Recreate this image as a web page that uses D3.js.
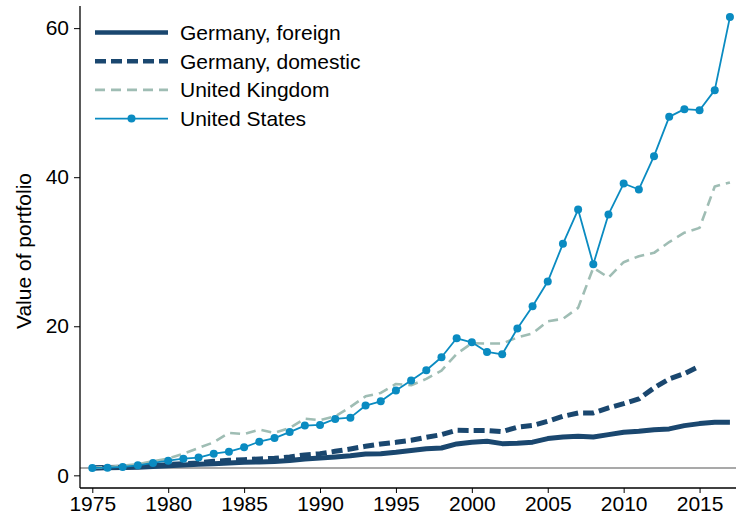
<!DOCTYPE html>
<html>
<head>
<meta charset="utf-8">
<script src="https://cdn.jsdelivr.net/npm/d3@7"></script>
<style>
  body { margin: 0; background: #fff; }
  svg { display: block; font-family: "Liberation Sans", Arial, sans-serif; }
  .axis path, .axis line { stroke: #000; }
  .axis text { font-size: 21px; fill: #000; }
  .legend text { font-size: 21px; fill: #000; }
</style>
</head>
<body>
<div id="chart"></div>
<script>

var years = d3.range(1975, 2018);

var germanyForeign = [1.0, 1.02, 1.05, 1.1, 1.2, 1.3, 1.4, 1.47, 1.55, 1.65, 1.75, 1.8, 1.85, 1.98, 2.2,
  2.33, 2.47, 2.64, 2.87, 2.91, 3.09, 3.32, 3.58, 3.67, 4.21, 4.45, 4.56, 4.25, 4.3, 4.45,
  4.93, 5.15, 5.24, 5.15, 5.46, 5.77, 5.9, 6.13, 6.23, 6.67, 6.94, 7.11, 7.11];

var germanyDomestic = [1.0, 1.05, 1.1, 1.2, 1.3, 1.44, 1.57, 1.66, 1.88, 2.01, 2.1, 2.2, 2.28, 2.47, 2.74,
  2.91, 3.22, 3.54, 3.89, 4.21, 4.43, 4.7, 5.1, 5.46, 6.04, 6.02, 6.02, 5.86, 6.47, 6.69,
  7.25, 7.92, 8.37, 8.37, 9.05, 9.62, 10.25, 11.73, 12.94, 13.65, 14.63];

var unitedKingdom = [1.0, 1.1, 1.3, 1.5, 1.88, 2.24, 2.91, 3.67, 4.43, 5.69, 5.55, 6.13, 5.69, 6.36, 7.61,
  7.4, 7.92, 9.18, 10.6, 11.06, 12.26, 12.08, 12.94, 14.05, 16.3, 17.72, 17.68, 17.68, 18.5, 19.05,
  20.67, 21.0, 22.47, 27.85, 26.54, 28.6, 29.4, 29.85, 31.3, 32.55, 33.2, 38.75, 39.3];

var unitedStates = [1.0, 1.03, 1.13, 1.34, 1.66, 1.97, 2.24, 2.38, 2.91, 3.18, 3.76, 4.52, 5.0, 5.8, 6.67,
  6.76, 7.57, 7.74, 9.36, 9.93, 11.37, 12.71, 14.1, 15.84, 18.39, 17.85, 16.56, 16.24, 19.69, 22.68,
  26.0, 31.06, 35.66, 28.32, 35.0, 39.15, 38.35, 42.82, 48.1, 49.13, 48.99, 51.68, 61.48];

var yTicks = [0, 20, 40, 60];
var xTicks = [1975, 1980, 1985, 1990, 1995, 2000, 2005, 2010, 2015];
var yLabel = "Value of portfolio";

var seriesNames = ["Germany, foreign", "Germany, domestic", "United Kingdom", "United States"];

function toPoints(values) {
  return values.map(function(v, i) { return {t: years[i], y: v}; });
}

/* per-series look, in legend order */
var series = [
  {name: seriesNames[0], data: toPoints(germanyForeign), color: "#1a476f", width: 5, dash: null, dots: false},
  {name: seriesNames[1], data: toPoints(germanyDomestic), color: "#1a476f", width: 5, dash: "11,5", dots: false},
  {name: seriesNames[2], data: toPoints(unitedKingdom), color: "#9fbdb4", width: 2.6, dash: "10,6", dots: false},
  {name: seriesNames[3], data: toPoints(unitedStates), color: "#0a8bc1", width: 1.8, dash: null, dots: true}
];

var W = 736, H = 519;
var plotLeft = 80, plotRight = 736, plotTop = 6, plotBottom = 488;

var x = d3.scaleLinear().domain([1974.19, 2017.4]).range([plotLeft, plotRight]),
    y = d3.scaleLinear().domain([-1.7, 62.97]).range([plotBottom, plotTop]);

var svg = d3.select("#chart").append("svg")
  .attr("width", W)
  .attr("height", H);

/* reference line at 1 */
svg.append("line")
  .attr("x1", plotLeft).attr("x2", plotRight)
  .attr("y1", y(1)).attr("y2", y(1))
  .attr("stroke", "#8c8c8c")
  .attr("stroke-width", 1.5);

var line = d3.line()
  .x(function(d) { return x(d.t); })
  .y(function(d) { return y(d.y); });

series.forEach(function(s) {
  svg.append("path")
    .datum(s.data)
    .attr("fill", "none")
    .attr("stroke", s.color)
    .attr("stroke-width", s.width)
    .attr("stroke-linejoin", "round")
    .attr("stroke-dasharray", s.dash)
    .attr("d", line);
  if (s.dots) {
    svg.append("g").selectAll("circle")
      .data(s.data)
      .enter().append("circle")
      .attr("cx", function(d) { return x(d.t); })
      .attr("cy", function(d) { return y(d.y); })
      .attr("r", 4)
      .attr("fill", s.color);
  }
});

var xAxis = d3.axisBottom(x).tickValues(xTicks).tickFormat(d3.format("d")).tickSizeOuter(0).tickSize(5).tickPadding(3),
    yAxis = d3.axisLeft(y).tickValues(yTicks).tickSizeOuter(0).tickSize(6).tickPadding(5);

var gX = svg.append("g")
  .attr("class", "axis axis--x")
  .attr("transform", "translate(0," + plotBottom + ")")
  .call(xAxis);
gX.select(".domain").attr("d", "M" + plotLeft + ",0H" + plotRight).attr("stroke-width", 1.3);

var gY = svg.append("g")
  .attr("class", "axis axis--y")
  .attr("transform", "translate(" + plotLeft + ",0)")
  .call(yAxis);
gY.select(".domain").attr("d", "M0," + plotTop + "V" + plotBottom).attr("stroke-width", 1.3);
gY.selectAll(".tick line").attr("stroke", "#555");

svg.append("text")
  .attr("transform", "translate(31," + ((plotTop + plotBottom) / 2 + 4) + ") rotate(-90)")
  .attr("text-anchor", "middle")
  .style("font-size", "21px")
  .text(yLabel);

/* legend */
var legend = svg.append("g").attr("class", "legend");
series.forEach(function(s, i) {
  var ly = 32.5 + i * 28.7;
  legend.append("line")
    .attr("x1", 95).attr("x2", 168)
    .attr("y1", ly).attr("y2", ly)
    .attr("stroke", s.color)
    .attr("stroke-width", s.width === 5 ? 4.5 : s.width)
    .attr("stroke-dasharray", s.dash);
  if (s.dots) {
    legend.append("circle")
      .attr("cx", 131.5).attr("cy", ly)
      .attr("r", 4)
      .attr("fill", s.color);
  }
  legend.append("text")
    .attr("x", 180)
    .attr("y", ly + 7.5)
    .text(s.name);
});

</script>
</body>
</html>
